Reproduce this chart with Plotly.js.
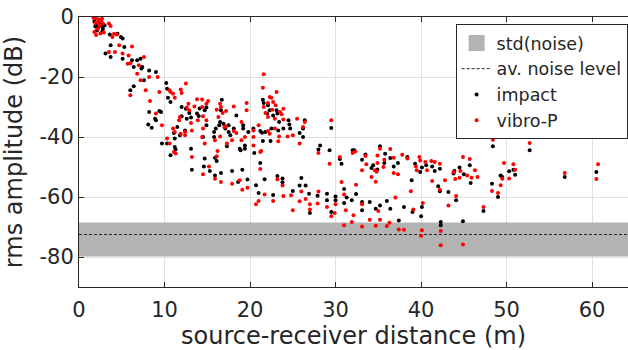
<!DOCTYPE html>
<html>
<head>
<meta charset="utf-8">
<script src="https://cdn.plot.ly/plotly-3.0.1.min.js"></script>
<style>html,body{margin:0;padding:0;background:#fff;overflow:hidden}#chart{width:628px;height:350px}</style>
</head>
<body>
<div id="chart"></div>
<script>
// ---- data ----
const impactX = [
  1.8,2.0,2.2,2.4,2.6,2.8,2.1,1.9,2.5,3.0, 2.3,2.7,3.6,4.5,4.9,5.1,3.7,5.3,3.1,3.7, 5.1,6.2,6.8,7.2,6.4,7.4,7.3,8.2,9.0,7.6, 10.2,6.4,6.0,10.3,10.4,10.7,12.0,12.5,
  8.1,8.5,8.9,9.4,9.6,8.2,9.0,9.7,10.3,11.2, 11.2,11.3,10.7,11.5,12.0,12.9,13.1,12.4,13.1,13.2, 13.8,14.0,11.1,11.8,12.6,14.1,
  21.5,21.6,22.1,22.3,23.1,23.2,22.7,22.0,23.4,24.5, 24.6,26.4,25.8,24.7,23.9,23.3,22.5,21.8,21.2,19.8, 20.4,21.4,22.4,21.5,20.5,19.4,19.4,18.8,19.2,19.2, 18.4,18.1,17.7,17.5,17.3,17.5,16.6,16.7,16.5,16.9, 17.1,16.4,16.0,15.8,15.8,14.5,14.9,14.7,14.9,15.9, 14.7,28.0,26.2,26.2,28.2,
  14.6,15.3,16.1,15.9,16.6,17.9,18.6,19.1,19.7,18.9, 21.2,20.7,21.0,21.7,22.7,23.2,23.8,23.8,25.0,25.8, 26.0,26.5,26.9,27.0,27.9,29.0,29.0,
  29.5,29.3,30.5,30.7,31.0,32.4,30.0,32.0,32.2,33.1, 33.5,34.2,34.4,34.9,35.2,35.8,35.7,36.4,36.8,37.3, 38.4,39.3,39.9,40.1,40.6,41.3,41.6,42.2,42.0,43.2, 43.8,38.9,
  29.5,30.0,31.0,31.3,31.9,33.1,33.1,34.0,34.7,35.2, 36.0,36.4,37.4,38.0,39.0,40.0,40.1,42.2,42.3,42.3,
  44.1,44.9,47.3,49.0,48.4,52.7,56.8,60.5,45.7,45.8, 45.0,44.5,43.9,48.3,49.3,49.5,50.3,50.8,51.0
];
const impactY = [
  -1.5,-2.5,-3.5,-2.0,-3.0,-4.0,-4.5,-3.2,-1.2,-2.8, -0.8,-5.0,-5.8,-5.6,-6.7,-7.2,-9.4,-10.0,-12.2,-13.3, -13.9,-14.4,-14.4,-13.9,-16.7,-16.7,-17.2,-17.8,-18.3,-21.1, -22.0,-23.1,-24.4,-23.9,-26.9,-28.3,-30.0,-30.6,
  -35.8,-36.9,-33.9,-31.3,-31.7,-31.7,-34.4,-42.2,-42.2,-40.5, -43.3,-44.2,-46.1,-36.7,-33.1,-32.0,-33.5,-37.8,-43.9,-50.9, -32.2,-33.0,-38.7,-39.4,-33.9,-30.5,
  -27.6,-28.7,-29.4,-31.1,-31.1,-32.2,-32.8,-32.2,-35.0,-34.4, -35.8,-34.4,-38.7,-37.2,-37.2,-37.8,-37.2,-38.3,-38.0,-38.3, -37.2,-38.6,-41.3,-41.3,-45.3,-42.8,-43.9,-43.9,-37.2,-36.1, -32.8,-37.2,-39.4,-38.3,-43.1,-36.1,-31.1,-27.6,-35.0,-35.6, -37.2,-36.1,-37.2,-38.3,-40.0,-40.0,-36.1,-31.1,-30.2,-46.9, -47.2,-44.2,-37.2,-40.0,-42.8,
  -49.8,-51.3,-48.0,-52.8,-52.0,-51.3,-55.0,-50.9,-54.2,-44.4, -48.7,-56.1,-58.7,-54.1,-59.3,-53.0,-53.8,-55.1,-58.0,-56.2, -53.7,-56.2,-58.9,-65.3,-59.6,-58.9,-61.1,
  -37.0,-44.4,-47.3,-48.9,-57.3,-59.0,-59.8,-44.4,-44.4,-47.6, -45.8,-50.3,-49.4,-50.8,-43.1,-45.6,-48.7,-47.0,-49.8,-48.7, -46.7,-48.9,-51.7,-50.2,-49.4,-49.8,-51.3,-50.6,-56.4,-58.3, -52.2,-54.4,
  -65.0,-61.1,-62.0,-60.2,-61.1,-61.7,-64.4,-61.7,-63.9,-62.8, -61.3,-63.9,-67.8,-63.3,-65.0,-66.4,-63.3,-58.1,-68.3,-69.4,
  -61.1,-68.1,-64.7,-60.0,-43.1,-44.4,-53.3,-51.7,-49.4,-55.3, -52.4,-50.2,-51.3,-55.6,-52.8,-53.3,-51.4,-50.9,-52.6
];
const vibroX = [
  1.7,2.0,2.3,2.6,1.9,2.4,2.8,2.2,1.8,2.5, 2.0,2.9,2.2,2.7,3.5,3.7,4.1,3.9,4.4,4.7, 6.2,3.5,4.2,5.1,5.8,5.7,6.0,7.6,7.0,6.8, 8.2,7.2,9.2,12.5,6.0,7.8,9.4,10.7,8.3,11.2, 11.0,12.0,13.8,14.4,12.8,10.6,11.9,
  9.0,9.7,10.3,10.6,11.1,11.3,11.0,11.2,11.8,11.7, 12.4,13.2,13.9,14.5,14.4,14.5,12.6,12.9,13.1,13.2, 13.5,14.4,11.9,12.4,
  21.6,21.5,23.1,22.3,22.5,22.1,22.7,23.0,21.6,21.8, 22.6,23.5,23.9,23.7,22.1,22.9,23.9,25.5,26.4,26.2, 25.8,22.9,22.1,21.0,20.4,20.4,22.3,23.4,24.4,25.0, 23.3,21.3,20.4,19.0,19.4,19.0,19.6,19.6,18.1,18.1, 18.4,17.9,17.3,17.2,17.2,16.8,16.5,16.6,16.1,16.3, 17.0,16.5,15.9,14.7,14.5,14.9,14.9,15.1,16.2,16.1, 28.0,
  15.2,15.9,16.6,17.9,18.8,19.1,19.7,21.2,21.2,21.0, 20.7,21.7,22.7,23.2,23.8,23.9,24.8,25.0,26.0,25.8, 26.5,27.0,27.0,27.9,28.0,29.0,
  29.5,29.3,30.5,30.7,31.0,32.4,32.0,32.3,33.1,33.5, 33.6,34.6,34.8,34.9,34.2,34.7,34.9,35.2,35.7,35.6, 36.4,36.8,36.8,37.3,37.8,38.4,39.4,39.5,39.8,39.9, 40.5,40.7,41.2,41.3,41.6,42.2,42.2,42.8,43.8,38.8, 37.0,
  29.5,30.0,29.9,31.2,32.1,31.9,31.0,33.1,33.1,34.0, 34.7,35.0,35.2,36.0,36.3,37.4,38.0,39.1,40.2,40.1, 40.0,43.2,42.3,42.3,
  44.1,44.9,47.3,48.3,49.0,48.4,52.7,56.8,60.7,60.5, 44.9,45.7,46.3,46.6,45.9,45.4,44.6,44.0,44.5,49.3, 49.5,49.7,50.3,50.8,51.0
];
const vibroY = [
  -0.3,-0.5,-1.0,-1.5,-2.0,-2.8,-2.2,-4.0,-5.0,-5.5, -6.0,-5.2,-1.8,-0.6,-2.2,-3.0,-5.6,-6.7,-5.8,-9.4, -9.8,-11.7,-11.7,-12.2,-12.8,-15.6,-15.4,-13.3,-16.1,-18.9, -20.0,-21.1,-20.0,-22.2,-26.1,-24.4,-25.0,-25.0,-28.0,-26.9, -25.6,-25.3,-27.4,-30.0,-28.9,-24.4,-24.2,
  -32.2,-36.1,-40.5,-42.2,-45.0,-45.5,-37.2,-38.3,-33.3,-34.4, -38.3,-46.7,-34.4,-33.1,-40.0,-52.4,-30.2,-31.1,-35.3,-37.8, -29.8,-27.5,-38.9,-39.4,
  -19.1,-23.6,-25.0,-26.7,-26.9,-28.7,-28.3,-29.4,-30.0,-32.0, -30.9,-31.7,-30.6,-32.4,-33.3,-33.9,-34.2,-33.9,-35.0,-36.7, -42.2,-37.2,-38.0,-36.1,-37.8,-40.0,-38.9,-39.8,-39.8,-39.4, -41.4,-44.7,-42.8,-41.1,-40.0,-35.0,-31.1,-28.7,-29.8,-38.0, -38.7,-41.1,-42.2,-36.4,-31.3,-32.0,-28.9,-30.0,-30.9,-33.3, -36.7,-39.8,-41.1,-42.2,-37.2,-34.4,-28.9,-28.0,-44.7,-46.4, -45.3,
  -49.8,-53.9,-55.0,-55.6,-54.4,-57.6,-56.9,-45.0,-50.7,-61.3, -62.4,-59.2,-61.3,-54.1,-56.2,-59.7,-59.4,-64.4,-58.2,-61.4, -60.7,-62.4,-64.2,-62.2,-58.2,-63.3,
  -34.4,-48.9,-46.7,-55.0,-59.2,-55.9,-45.3,-44.8,-51.1,-46.3, -49.1,-51.1,-51.6,-48.7,-53.3,-54.9,-46.2,-43.9,-47.6,-50.0, -44.0,-46.9,-52.0,-52.4,-45.9,-47.2,-49.8,-51.1,-46.7,-47.8, -48.3,-51.1,-48.0,-54.7,-48.3,-48.9,-57.6,-54.4,-51.7,-58.1, -60.2,
  -66.4,-62.4,-65.3,-64.4,-66.1,-68.3,-69.4,-62.4,-69.8,-67.6, -69.6,-64.7,-67.6,-69.7,-68.6,-70.8,-70.9,-64.2,-62.0,-71.1, -72.9,-62.8,-71.3,-76.1,
  -59.7,-75.8,-63.3,-58.0,-58.7,-40.9,-42.0,-52.0,-49.1,-54.0, -46.7,-47.3,-51.1,-53.3,-53.6,-52.8,-51.3,-54.0,-53.6,-56.1, -53.9,-48.7,-53.8,-49.1,-50.9
];
// noise level (dB) and std band limits
const noiseLevel = -72.5;
const noiseUpper = -68.5;
const noiseLower = -79.8;
const noiseSpanX = [0, 70];

const xTickVals = [0, 10, 20, 30, 40, 50, 60];
const xTickText = ['0', '10', '20', '30', '40', '50', '60'];
const yTickVals = [-80, -60, -40, -20, 0];
const yTickText = ['-80', '-60', '-40', '-20', '0'];
const seriesNames = ['std(noise)', 'av. noise level', 'impact', 'vibro-P'];
const bandColor = '#b3b3b3';

// ---- traces ----
const bandLegendTrace = {
  x: [null], y: [null], type: 'scatter', mode: 'markers',
  marker: {symbol: 'square', size: 16, color: bandColor},
  name: seriesNames[0], hoverinfo: 'skip'
};
const bandTrace = {
  x: [noiseSpanX[0], noiseSpanX[1], noiseSpanX[1], noiseSpanX[0]],
  y: [noiseUpper, noiseUpper, noiseLower, noiseLower],
  type: 'scatter', mode: 'none', fill: 'toself',
  fillcolor: bandColor, name: seriesNames[0], showlegend: false, hoverinfo: 'skip'
};
const lineTrace = {
  x: noiseSpanX, y: [noiseLevel, noiseLevel],
  type: 'scatter', mode: 'lines',
  line: {color: '#262626', width: 1, dash: '3px,2px'},
  name: seriesNames[1]
};
const impactTrace = {
  x: impactX, y: impactY, type: 'scatter', mode: 'markers',
  marker: {color: '#000000', size: 4}, name: seriesNames[2]
};
const vibroTrace = {
  x: vibroX, y: vibroY, type: 'scatter', mode: 'markers',
  marker: {color: '#ff0000', size: 4}, name: seriesNames[3]
};

const axisCommon = {
  showline: true, linecolor: '#262626', linewidth: 1,
  ticks: 'inside', ticklen: 5, tickwidth: 1, tickcolor: '#262626',
  showgrid: true, gridcolor: '#e0e0e0', gridwidth: 1,
  zeroline: false, automargin: false,
  tickfont: {family: 'DejaVu Sans', size: 21, color: '#262626'}
};

const layout = {
  width: 628, height: 350,
  margin: {l: 79, r: 0, t: 17, b: 63, pad: 0, autoexpand: false},
  paper_bgcolor: '#ffffff', plot_bgcolor: '#ffffff',
  font: {family: 'DejaVu Sans', color: '#262626', size: 21},
  showlegend: true,
  legend: {
    x: 0.686, y: 0.974, xanchor: 'left', yanchor: 'top',
    bgcolor: '#ffffff', bordercolor: '#262626', borderwidth: 1,
    font: {family: 'DejaVu Sans', size: 17.5, color: '#262626'},
    tracegroupgap: 0
  },
  xaxis: Object.assign({}, axisCommon, {
    range: [0, 64.2], tickvals: xTickVals, ticktext: xTickText, mirror: 'ticks',
    ticklabelstandoff: 4,
    title: {text: 'source-receiver distance (m)', font: {family: 'DejaVu Sans', size: 24, color: '#262626'}}
  }),
  yaxis: Object.assign({}, axisCommon, {
    range: [-90, 0], tickvals: yTickVals, ticktext: yTickText, mirror: false,
    title: {text: 'rms amplitude (dB)', font: {family: 'DejaVu Sans', size: 24, color: '#262626'}}
  })
};

Plotly.newPlot('chart', [bandLegendTrace, bandTrace, lineTrace, impactTrace, vibroTrace], layout, {displayModeBar: false, staticPlot: true});
</script>
</body>
</html>
